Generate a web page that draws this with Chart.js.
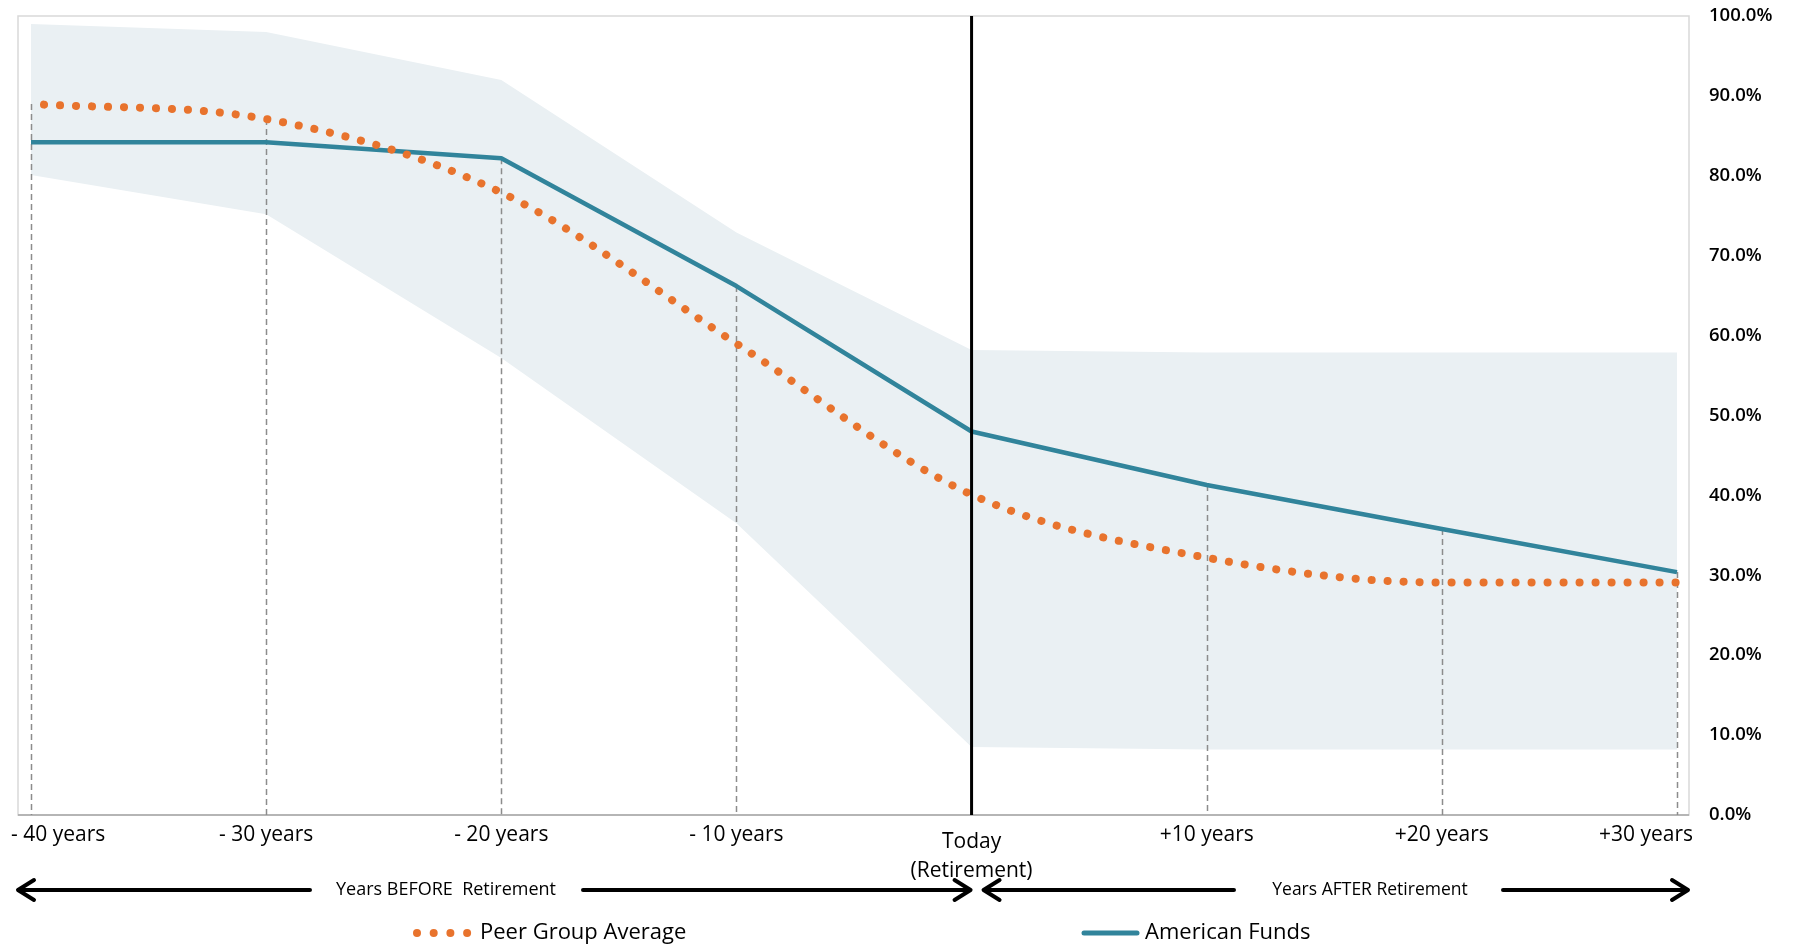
<!DOCTYPE html>
<html>
<head>
<meta charset="utf-8">
<title>Glide path</title>
<script src="https://cdn.jsdelivr.net/npm/chart.js"></script>
<style>
  body { margin: 0; background: #fff; }
  #wrap { width: 1795px; height: 948px; }
</style>
</head>
<body>
<div id="wrap"><canvas id="canvas" width="1795" height="948"></canvas></div>
<script>
// data (equity share, %)
const categories = ['- 40 years', '- 30 years', '- 20 years', '- 10 years', ['Today', '(Retirement)'], '+10 years', '+20 years', '+30 years'];
const todayIndex = 4;
const peerGroup = [89.0, 87.1, 77.9, 59.0, 40.1, 32.2, 29.1, 29.1];
const americanFunds = [84.2, 84.2, 82.2, 66.2, 48.0, 41.3, 35.8, 30.4];
const rangeHigh = [99.0, 98.0, 92.0, 72.9, 58.2, 57.9, 57.9, 57.9];
const rangeLow = [80.1, 75.2, 57.2, 36.5, 8.5, 8.2, 8.2, 8.2];
const yTicks = [0, 10, 20, 30, 40, 50, 60, 70, 80, 90, 100];

const teal = '#31849B';
const orange = '#E8732D';
const band = '#EAF0F3';
const fontName = '"Open Sans", "Noto Sans", sans-serif';

// frame, drop lines, the Today line, labels under the chart and the legend
const overlay = {
  id: 'overlay',
  beforeDatasetsDraw(chart) {
    const ctx = chart.ctx;
    const a = chart.chartArea;
    const x = chart.scales.x, y = chart.scales.y;
    ctx.save();
    // plot frame
    ctx.strokeStyle = '#D9D9D9';
    ctx.lineWidth = 1.5;
    ctx.strokeRect(a.left - 13, a.top, a.right - a.left + 25, a.bottom - a.top);
    ctx.strokeStyle = '#A6A6A6';
    ctx.beginPath();
    ctx.moveTo(a.left - 13, a.bottom);
    ctx.lineTo(a.right + 12, a.bottom);
    ctx.stroke();
    // dashed drop lines
    ctx.strokeStyle = '#8C8C8C';
    ctx.lineWidth = 1.5;
    ctx.setLineDash([6, 4]);
    for (let i = 0; i < categories.length; i++) {
      if (i === todayIndex) continue;
      const px = Math.round(x.getPixelForValue(i)) + 0.5;
      const top = y.getPixelForValue(Math.max(peerGroup[i], americanFunds[i]));
      ctx.beginPath();
      ctx.moveTo(px, top);
      ctx.lineTo(px, a.bottom);
      ctx.stroke();
    }
    ctx.restore();
  },
  afterDatasetsDraw(chart) {
    const ctx = chart.ctx;
    const a = chart.chartArea;
    const px = chart.scales.x.getPixelForValue(todayIndex);
    ctx.save();
    ctx.strokeStyle = '#000';
    ctx.lineWidth = 3;
    ctx.beginPath();
    ctx.moveTo(px, a.top);
    ctx.lineTo(px, a.bottom);
    ctx.stroke();
    ctx.restore();
  },
  afterDraw(chart) {
    const ctx = chart.ctx;
    const x = chart.scales.x;
    ctx.save();
    ctx.fillStyle = '#000';
    ctx.textBaseline = 'middle';
    ctx.textAlign = 'left';

    // category labels, the outer ones kept inside the picture
    ctx.font = '21px ' + fontName;
    categories.forEach((lab, i) => {
      const lines = Array.isArray(lab) ? lab : [lab];
      const cx = x.getPixelForValue(i);
      const y0 = lines.length > 1 ? 842 : 835;
      lines.forEach((t, k) => {
        const w = ctx.measureText(t).width;
        let left = cx - w / 2;
        if (left < 11) left = 11;
        if (left + w > 1693) left = 1693 - w;
        ctx.fillText(t, left, y0 + k * 29);
      });
    });

    // arrows
    const ay = 890;
    ctx.strokeStyle = '#000';
    ctx.lineWidth = 4;
    ctx.lineCap = 'round';
    ctx.lineJoin = 'round';
    function arrow(x1, x2, headLeft, headRight) {
      ctx.beginPath();
      ctx.moveTo(x1, ay);
      ctx.lineTo(x2, ay);
      if (headLeft) {
        ctx.moveTo(x1 + 16, ay - 10); ctx.lineTo(x1, ay); ctx.lineTo(x1 + 16, ay + 10);
      }
      if (headRight) {
        ctx.moveTo(x2 - 16, ay - 10); ctx.lineTo(x2, ay); ctx.lineTo(x2 - 16, ay + 10);
      }
      ctx.stroke();
    }
    const todayX = x.getPixelForValue(todayIndex);
    arrow(18, 310, true, false);
    arrow(583, todayX - 1, false, true);
    arrow(todayX + 12, 1234, true, false);
    arrow(1503, 1688, false, true);
    ctx.textAlign = 'center';
    ctx.font = '18px ' + fontName;
    ctx.fillText('Years BEFORE  Retirement', 446, ay);
    ctx.font = '17.5px ' + fontName;
    ctx.fillText('Years AFTER Retirement', 1370, ay);

    // legend
    const ly = 933;
    ctx.fillStyle = orange;
    for (let k = 0; k < 4; k++) {
      ctx.beginPath();
      ctx.arc(417 + k * 16.7, ly, 4, 0, Math.PI * 2);
      ctx.fill();
    }
    ctx.strokeStyle = teal;
    ctx.lineWidth = 5;
    ctx.beginPath();
    ctx.moveTo(1084, ly);
    ctx.lineTo(1137, ly);
    ctx.stroke();
    ctx.fillStyle = '#000';
    ctx.textAlign = 'left';
    ctx.font = '22px ' + fontName;
    ctx.fillText('Peer Group Average', 480, ly);
    ctx.fillText('American Funds', 1145, ly);
    ctx.restore();
  }
};

const ctx = document.getElementById('canvas');
new Chart(ctx, {
  type: 'line',
  data: {
    labels: categories,
    datasets: [
      {
        label: 'Peer Group Average',
        data: peerGroup,
        borderColor: orange,
        borderWidth: 8,
        borderDash: [0.1, 15.9],
        borderDashOffset: 3,
        borderCapStyle: 'round',
        cubicInterpolationMode: 'monotone',
        pointRadius: 0,
        fill: false,
        order: 0
      },
      {
        label: 'American Funds',
        data: americanFunds,
        borderColor: teal,
        borderWidth: 4.5,
        borderJoinStyle: 'round',
        pointRadius: 0,
        fill: false,
        order: 1
      },
      {
        label: 'Range high',
        data: rangeHigh,
        borderWidth: 0,
        borderColor: 'rgba(0,0,0,0)',
        backgroundColor: band,
        pointRadius: 0,
        fill: '+1',
        order: 2
      },
      {
        label: 'Range low',
        data: rangeLow,
        borderWidth: 0,
        borderColor: 'rgba(0,0,0,0)',
        pointRadius: 0,
        fill: false,
        order: 3
      }
    ]
  },
  options: {
    responsive: false,
    animation: false,
    devicePixelRatio: 1,
    layout: { padding: { left: 31, top: 16, right: 0, bottom: 133 } },
    plugins: {
      legend: { display: false },
      tooltip: { enabled: false },
      filler: { drawTime: 'beforeDatasetsDraw' }
    },
    scales: {
      x: {
        type: 'category',
        display: false,
        offset: false
      },
      y: {
        position: 'right',
        min: 0,
        max: 100,
        afterBuildTicks(scale) {
          scale.ticks = yTicks.map(v => ({ value: v }));
        },
        afterFit(scale) {
          // fixed axis width, and no extra room above/below for the labels
          scale.width = 118;
          scale.paddingTop = 0;
          scale.paddingBottom = 0;
        },
        ticks: {
          padding: 32,
          color: '#000',
          font: { family: fontName, size: 18.5, weight: '600' },
          callback: v => v.toFixed(1) + '%'
        },
        grid: { display: false, drawTicks: false },
        border: { display: false }
      }
    }
  },
  plugins: [overlay]
});
</script>
</body>
</html>
